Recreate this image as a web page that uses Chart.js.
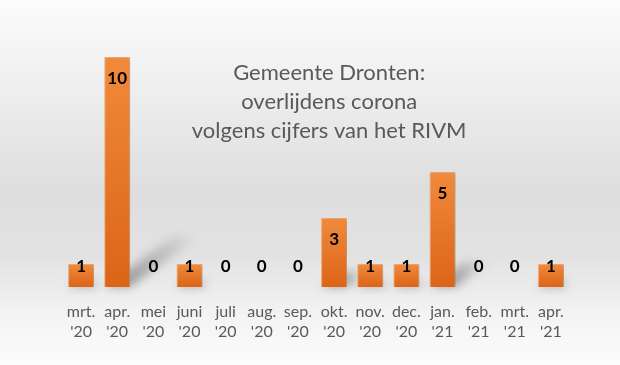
<!DOCTYPE html>
<html>
<head>
    <title>Gemeente Dronten: overlijdens corona</title>
    <script src="https://cdn.jsdelivr.net/npm/chart.js@4"></script>
    <style>
        html, body {
            margin: 0;
            padding: 0;
        }
        body {
            width: 620px;
            height: 365px;
            background: linear-gradient(to bottom, #fcfcfc 0%, #f2f2f2 18%, #dedede 52%, #e2e2e2 70%, #f3f3f3 86%, #fcfcfc 100%);
        }
        .chart-container {
            position: relative;
            width: 620px;
            height: 365px;
        }
    </style>
</head>
<body>
    <div class="chart-container">
        <canvas id="deathsChart" width="620" height="365"></canvas>
    </div>

    <script>
    // data
    const months = ['mrt.', 'apr.', 'mei', 'juni', 'juli', 'aug.', 'sep.', 'okt.', 'nov.', 'dec.', 'jan.', 'feb.', 'mrt.', 'apr.'];
    const years = ["'20", "'20", "'20", "'20", "'20", "'20", "'20", "'20", "'20", "'20", "'21", "'21", "'21", "'21"];
    const deaths = [1, 10, 0, 1, 0, 0, 0, 3, 1, 1, 5, 0, 0, 1];
    const titleLines = ['Gemeente Dronten:', 'overlijdens corona', 'volgens cijfers van het RIVM'];
    const yMax = 10;

    const labels = months.map((m, i) => [m, years[i]]);

    // per-bar orange gradient, light on top, darker at the base
    function barFill(context) {
        const chart = context.chart;
        const y = chart.scales.y;
        if (!chart.chartArea || !y) return '#e8742a';
        const v = context.raw || 0;
        const top = y.getPixelForValue(v);
        const bottom = y.getPixelForValue(0);
        if (bottom - top < 1) return '#e8742a';
        const g = chart.ctx.createLinearGradient(0, top, 0, bottom);
        g.addColorStop(0, '#f08a3c');
        g.addColorStop(1, '#dc6417');
        return g;
    }

    // slanted floor shadows behind the bars
    const floorShadow = {
        id: 'floorShadow',
        beforeDatasetsDraw(chart) {
            const ctx = chart.ctx;
            const meta = chart.getDatasetMeta(0);
            ctx.save();
            ctx.filter = 'blur(5px)';
            meta.data.forEach(bar => {
                const h = bar.base - bar.y;
                if (h < 2) return;
                const xl = bar.x - bar.width / 2;
                const xr = bar.x + bar.width / 2;
                const dx = h * 0.3;
                const dy = -h * 0.22;
                const g = ctx.createLinearGradient(xr, bar.base, xr + dx, bar.base + dy);
                g.addColorStop(0, 'rgba(60,60,60,0.45)');
                g.addColorStop(1, 'rgba(60,60,60,0)');
                ctx.fillStyle = g;
                ctx.beginPath();
                ctx.moveTo(xl, bar.base);
                ctx.lineTo(xr, bar.base);
                ctx.lineTo(xr + dx, bar.base + dy);
                ctx.lineTo(xl + dx, bar.base + dy);
                ctx.closePath();
                ctx.fill();
            });
            ctx.restore();
            // soft shadow on the bars themselves
            ctx.save();
            ctx.shadowColor = 'rgba(0,0,0,0.22)';
            ctx.shadowBlur = 5;
            ctx.shadowOffsetX = 3;
            ctx.shadowOffsetY = 1;
        },
        afterDatasetsDraw(chart) {
            chart.ctx.restore();
        }
    };

    // value labels inside the top of each bar and the title block
    const textLayer = {
        id: 'textLayer',
        afterDatasetsDraw(chart) {
            const ctx = chart.ctx;
            const meta = chart.getDatasetMeta(0);
            ctx.save();
            ctx.fillStyle = '#000000';
            ctx.font = 'bold 17px Lato';
            ctx.textAlign = 'center';
            ctx.textBaseline = 'middle';
            meta.data.forEach((bar, i) => {
                const ly = Math.min(bar.y + 22, bar.base - 20);
                ctx.fillText(String(deaths[i]), bar.x, ly);
            });

            const area = chart.chartArea;
            const cx = area.left + area.width * 0.526;
            ctx.fillStyle = '#595959';
            ctx.font = '22px Lato';
            titleLines.forEach((line, i) => {
                ctx.fillText(line, cx, area.top + 16 + i * 29);
            });
            ctx.restore();
        }
    };

    const ctx = document.getElementById('deathsChart').getContext('2d');
    new Chart(ctx, {
        type: 'bar',
        data: {
            labels: labels,
            datasets: [{
                data: deaths,
                backgroundColor: barFill,
                borderColor: 'rgba(246,168,110,0.9)',
                borderWidth: 1,
                categoryPercentage: 1,
                barPercentage: 0.72
            }]
        },
        options: {
            responsive: false,
            animation: false,
            layout: {
                padding: { left: 63, right: 51, top: 57, bottom: 16 }
            },
            scales: {
                x: {
                    grid: { display: false },
                    border: { display: false },
                    ticks: {
                        color: '#595959',
                        font: { family: 'Lato', size: 16, lineHeight: 1.25 },
                        padding: 7,
                        maxRotation: 0,
                        autoSkip: false
                    }
                },
                y: {
                    display: false,
                    min: 0,
                    max: yMax
                }
            },
            plugins: {
                legend: { display: false },
                tooltip: { enabled: false }
            }
        },
        plugins: [floorShadow, textLayer]
    });
    </script>
</body>
</html>
